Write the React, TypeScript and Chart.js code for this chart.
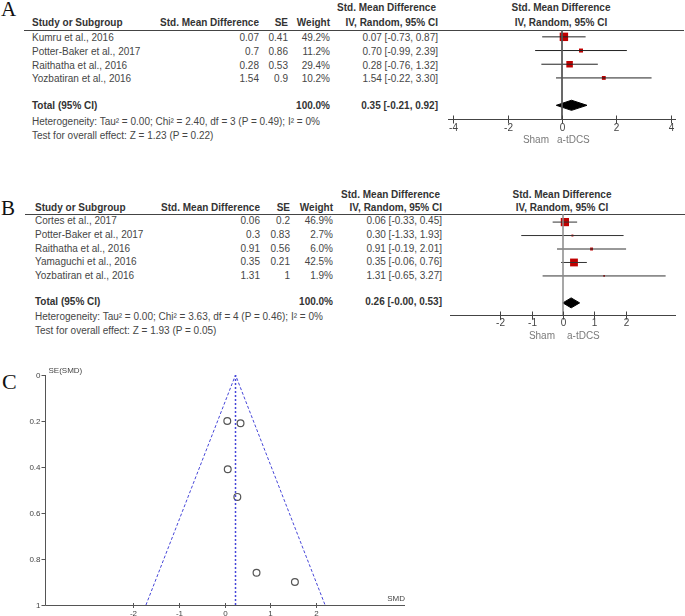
import React, { useEffect, useRef } from "react";
import { Chart, registerables } from "chart.js";
Chart.register(...registerables);

// ---------- Panel A data ----------
const studiesA = ["Kumru et al., 2016", "Potter-Baker et al., 2017", "Raithatha et al., 2016", "Yozbatiran et al., 2016"];
const smdA = [0.07, 0.7, 0.28, 1.54];
const seA = [0.41, 0.86, 0.53, 0.9];
const weightA = [49.2, 11.2, 29.4, 10.2];
const lowA = [-0.73, -0.99, -0.76, -0.22];
const highA = [0.87, 2.39, 1.32, 3.3];
const totalA = [0.35, -0.21, 0.92];
const ticksA = [-4, -2, 0, 2, 4];
const hetA = "Heterogeneity: Tau\u00b2 = 0.00; Chi\u00b2 = 2.40, df = 3 (P = 0.49); I\u00b2 = 0%";
const testA = "Test for overall effect: Z = 1.23 (P = 0.22)";

// ---------- Panel B data ----------
const studiesB = ["Cortes et al., 2017", "Potter-Baker et al., 2017", "Raithatha et al., 2016", "Yamaguchi et al., 2016", "Yozbatiran et al., 2016"];
const smdB = [0.06, 0.3, 0.91, 0.35, 1.31];
const seB = [0.2, 0.83, 0.56, 0.21, 1];
const weightB = [46.9, 2.7, 6.0, 42.5, 1.9];
const lowB = [-0.33, -1.33, -0.19, -0.06, -0.65];
const highB = [0.45, 1.93, 2.01, 0.76, 3.27];
const totalB = [0.26, -0.004, 0.53];
const ticksB = [-2, -1, 0, 1, 2];
const hetB = "Heterogeneity: Tau\u00b2 = 0.00; Chi\u00b2 = 3.63, df = 4 (P = 0.46); I\u00b2 = 0%";
const testB = "Test for overall effect: Z = 1.93 (P = 0.05)";

// ---------- Panel C data ----------
const funnelSmd = [0.06, 0.35, 0.07, 0.28, 0.7, 1.54];
const funnelSe = [0.2, 0.21, 0.41, 0.53, 0.86, 0.9];
const funnelPooled = 0.24;
const funnelXTicks = [-2, -1, 0, 1, 2];
const funnelYTicks = [0, 0.2, 0.4, 0.6, 0.8, 1];

const FONT = '"Liberation Sans", Arial, sans-serif';

function T(props: { x: number; c: number; align?: "left" | "right" | "center"; bold?: boolean; color?: string; children: any; size?: number }) {
  const { x, c, align = "left", bold = false, color, children, size = 10 } = props;
  const style: any = {
    position: "absolute",
    top: c - 7,
    lineHeight: "12px",
    fontSize: size,
    fontWeight: bold ? "bold" : "normal",
    color: color || (bold ? "#333" : "#464646"),
    whiteSpace: "nowrap",
  };
  if (align === "left") style.left = x;
  else if (align === "right") { style.left = x - 400; style.width = 400; style.textAlign = "right"; }
  else { style.left = x - 200; style.width = 400; style.textAlign = "center"; }
  return <div style={style}>{children}</div>;
}

type Layout = {
  studyX: number; smdX: number; seX: number; wtX: number; ciX: number; hdrX: number; plotX: number;
  hdr1: number; hdr2: number; lineY: number; lineX1: number; lineX2: number;
  row0: number; step: number; totalY: number; hetY: number; testY: number;
};

function ForestTable(p: { studies: string[]; smd: number[]; se: number[]; weight: number[]; low: number[]; high: number[]; total: number[]; het: string; test: string; L: Layout }) {
  const { studies, smd, se, weight, low, high, total, het, test, L } = p;
  const ci = (e: number, l: number, h: number) => `${e.toFixed(2)} [${l.toFixed(2)}, ${h.toFixed(2)}]`;
  return (
    <>
      <T x={L.hdrX} c={L.hdr1 + 1} align="right" bold>Std. Mean Difference</T>
      <T x={L.studyX} c={L.hdr2} bold>Study or Subgroup</T>
      <T x={L.smdX} c={L.hdr2} align="right" bold>Std. Mean Difference</T>
      <T x={L.seX} c={L.hdr2} align="right" bold>SE</T>
      <T x={L.wtX} c={L.hdr2} align="right" bold>Weight</T>
      <T x={L.ciX} c={L.hdr2} align="right" bold>IV, Random, 95% CI</T>
      <T x={L.plotX} c={L.hdr1 + 1} align="center" bold>Std. Mean Difference</T>
      <T x={L.plotX} c={L.hdr2} align="center" bold>IV, Random, 95% CI</T>
      <div style={{ position: "absolute", left: L.lineX1, top: L.lineY, width: L.lineX2 - L.lineX1, height: 1, background: "#444" }} />
      {studies.map((s, i) => (
        <React.Fragment key={s}>
          <T x={L.studyX} c={L.row0 + i * L.step}>{s}</T>
          <T x={L.smdX} c={L.row0 + i * L.step} align="right">{String(smd[i])}</T>
          <T x={L.seX} c={L.row0 + i * L.step} align="right">{String(se[i])}</T>
          <T x={L.wtX} c={L.row0 + i * L.step} align="right">{weight[i].toFixed(1) + "%"}</T>
          <T x={L.ciX} c={L.row0 + i * L.step} align="right">{ci(smd[i], low[i], high[i])}</T>
        </React.Fragment>
      ))}
      <T x={L.studyX} c={L.totalY} bold>Total (95% CI)</T>
      <T x={L.wtX} c={L.totalY} align="right" bold>{weight.reduce((a, b) => a + b, 0).toFixed(1) + "%"}</T>
      <T x={L.ciX} c={L.totalY} align="right" bold>{ci(total[0], total[1], total[2])}</T>
      <T x={L.studyX} c={L.hetY}>{het}</T>
      <T x={L.studyX} c={L.testY}>{test}</T>
    </>
  );
}

const forestAxisPlugin = {
  id: "forestAxis",
  afterDatasetsDraw(chart: any, _args: any, o: any) {
    const { ctx, chartArea: ca, scales } = chart;
    const xs = scales.x;
    const yb = Math.round(ca.bottom) + 0.5;
    ctx.save();
    ctx.strokeStyle = "#444";
    ctx.lineWidth = 1;
    ctx.beginPath();
    ctx.moveTo(ca.left, yb);
    ctx.lineTo(ca.right, yb);
    ctx.stroke();
    ctx.font = `10px ${FONT}`;
    ctx.fillStyle = "#444";
    ctx.textBaseline = "middle";
    ctx.textAlign = "center";
    o.ticks.forEach((v: number) => {
      const px = Math.round(xs.getPixelForValue(v)) + 0.5;
      ctx.beginPath();
      ctx.moveTo(px, yb - 4);
      ctx.lineTo(px, yb + 4);
      ctx.stroke();
      ctx.fillText(String(v), px, yb + o.labelDy);
    });
    const zx = xs.getPixelForValue(0);
    ctx.fillStyle = "#7a7a7a";
    ctx.textAlign = "right";
    ctx.fillText("Sham", zx + o.shamDx, yb + 21);
    ctx.textAlign = "left";
    ctx.fillText("a-tDCS", zx + o.tdcsDx, yb + 21);
    ctx.restore();
  },
};

function ForestPlot(p: {
  left: number; top: number; width: number; height: number; pad: any;
  xMin: number; xMax: number; yMin: number; yMax: number;
  est: number[]; low: number[]; high: number[]; weight: number[]; total: number[]; totalRow: number;
  ticks: number[]; zeroColor: string; zeroWidth: number; ciColor: string; shamDx: number; tdcsDx: number; labelDy: number; dH: number;
}) {
  const ref = useRef<HTMLCanvasElement>(null);
  useEffect(() => {
    if (!ref.current) return;
    const datasets: any[] = [];
    datasets.push({ type: "line", data: [{ x: 0, y: p.yMin }, { x: 0, y: p.yMax }], borderColor: p.zeroColor, borderWidth: p.zeroWidth, pointRadius: 0, clip: false });
    p.est.forEach((_e, i) => {
      datasets.push({ type: "line", data: [{ x: p.low[i], y: i }, { x: p.high[i], y: i }], borderColor: p.ciColor, borderWidth: 1, pointRadius: 0, clip: false });
    });
    datasets.push({
      type: "scatter",
      data: p.est.map((e, i) => ({ x: e, y: i })),
      pointStyle: "rect",
      pointRadius: p.weight.map((w) => (1.2 * Math.sqrt(w)) / Math.SQRT2),
      backgroundColor: "#c00000",
      borderWidth: 0,
      clip: false,
    });
    const r = p.totalRow;
    const [te, tl, th] = p.total;
    datasets.push({
      type: "line",
      data: [{ x: tl, y: r }, { x: te, y: r - p.dH }, { x: th, y: r }, { x: te, y: r + p.dH }, { x: tl, y: r }],
      borderColor: "#000",
      backgroundColor: "#000",
      borderWidth: 1,
      fill: "shape",
      pointRadius: 0,
      clip: false,
    });
    const chart = new Chart(ref.current, {
      type: "scatter",
      data: { datasets },
      options: {
        responsive: false,
        animation: false,
        events: [],
        layout: { padding: p.pad },
        plugins: {
          legend: { display: false },
          tooltip: { enabled: false },
          forestAxis: { ticks: p.ticks, shamDx: p.shamDx, tdcsDx: p.tdcsDx, labelDy: p.labelDy },
        } as any,
        scales: {
          x: { type: "linear", min: p.xMin, max: p.xMax, display: false },
          y: { type: "linear", min: p.yMin, max: p.yMax, reverse: true, display: false },
        },
      },
      plugins: [forestAxisPlugin],
    } as any);
    return () => chart.destroy();
  }, []);
  return <canvas ref={ref} width={p.width} height={p.height} style={{ position: "absolute", left: p.left, top: p.top }} />;
}

const funnelAxisPlugin = {
  id: "funnelAxis",
  afterDatasetsDraw(chart: any, _args: any, o: any) {
    const { ctx, chartArea: ca, scales } = chart;
    const xl = Math.round(ca.left) + 0.5;
    const yb = Math.round(ca.bottom) + 0.5;
    ctx.save();
    ctx.strokeStyle = "#555";
    ctx.lineWidth = 1;
    ctx.beginPath();
    ctx.moveTo(xl, ca.top);
    ctx.lineTo(xl, yb);
    ctx.lineTo(ca.right, yb);
    ctx.stroke();
    ctx.font = `8px ${FONT}`;
    ctx.fillStyle = "#444";
    ctx.textBaseline = "middle";
    ctx.textAlign = "right";
    o.yTicks.forEach((v: number) => {
      const py = Math.round(scales.y.getPixelForValue(v)) + 0.5;
      ctx.beginPath();
      ctx.moveTo(xl - 4, py);
      ctx.lineTo(xl, py);
      ctx.stroke();
      ctx.fillText(String(v), xl - 5, py);
    });
    ctx.textAlign = "center";
    o.xTicks.forEach((v: number) => {
      const px = Math.round(scales.x.getPixelForValue(v)) + 0.5;
      ctx.beginPath();
      ctx.moveTo(px, yb - 2.5);
      ctx.lineTo(px, yb + 2.5);
      ctx.stroke();
      ctx.fillText(String(v), px, yb + 8);
    });
    ctx.textAlign = "left";
    ctx.fillText("SE(SMD)", xl + 3, ca.top - 4.5);
    ctx.textAlign = "right";
    ctx.fillText("SMD", ca.right, yb - 7);
    ctx.restore();
  },
};

function FunnelPlot() {
  const ref = useRef<HTMLCanvasElement>(null);
  useEffect(() => {
    if (!ref.current) return;
    const blue = "#4646d8";
    const chart = new Chart(ref.current, {
      type: "scatter",
      data: {
        datasets: [
          {
            type: "line",
            data: [{ x: funnelPooled - 1.96, y: 1 }, { x: funnelPooled, y: 0 }, { x: funnelPooled + 1.96, y: 1 }],
            borderColor: blue, borderWidth: 1, borderDash: [3, 2], pointRadius: 0, clip: false,
          },
          {
            type: "line",
            data: [{ x: funnelPooled, y: 0 }, { x: funnelPooled, y: 1 }],
            borderColor: blue, borderWidth: 1.5, borderDash: [2, 2], pointRadius: 0, clip: false,
          },
          {
            type: "scatter",
            data: funnelSmd.map((v, i) => ({ x: v, y: funnelSe[i] })),
            pointStyle: "circle", pointRadius: 3.4, borderColor: "#555", backgroundColor: "rgba(0,0,0,0)", borderWidth: 1.2, clip: false,
          },
        ],
      },
      options: {
        responsive: false,
        animation: false,
        events: [],
        layout: { padding: { left: 45, right: 280, top: 35, bottom: 11 } },
        plugins: {
          legend: { display: false },
          tooltip: { enabled: false },
          funnelAxis: { xTicks: funnelXTicks, yTicks: funnelYTicks },
        } as any,
        scales: {
          x: { type: "linear", min: -3.93, max: 3.95, display: false },
          y: { type: "linear", min: 0, max: 1, reverse: true, display: false },
        },
      },
      plugins: [funnelAxisPlugin],
    } as any);
    return () => chart.destroy();
  }, []);
  return <canvas ref={ref} width={685} height={276} style={{ position: "absolute", left: 0, top: 340 }} />;
}

const layoutA: Layout = {
  studyX: 32, smdX: 259, seX: 288, wtX: 330, ciX: 438, hdrX: 436, plotX: 561,
  hdr1: 8.3, hdr2: 23.7, lineY: 30, lineX1: 24, lineX2: 684,
  row0: 39, step: 13.8, totalY: 107, hetY: 123, testY: 136.5,
};
const layoutB: Layout = {
  studyX: 35, smdX: 260, seX: 290, wtX: 333, ciX: 442, hdrX: 440, plotX: 562,
  hdr1: 195, hdr2: 209, lineY: 214, lineX1: 25, lineX2: 685,
  row0: 222, step: 13.75, totalY: 303, hetY: 318.3, testY: 332,
};

const letter = (ch: string, left: number, top: number, size: number) => (
  <div style={{ position: "absolute", left, top, fontFamily: '"Liberation Serif", "Times New Roman", serif', fontSize: size, lineHeight: `${size}px`, color: "#111" }}>{ch}</div>
);

export default function App() {
  return (
    <div style={{ position: "absolute", left: 0, top: 0, width: 685, height: 616, background: "#fff", fontFamily: FONT, overflow: "hidden" }}>
      {letter("A", 1, -1, 21)}
      {letter("B", 1, 198, 21)}
      {letter("C", 2, 371, 22)}
      <ForestTable studies={studiesA} smd={smdA} se={seA} weight={weightA} low={lowA} high={highA} total={totalA} het={hetA} test={testA} L={layoutA} />
      <ForestTable studies={studiesB} smd={smdB} se={seB} weight={weightB} low={lowB} high={highB} total={totalB} het={hetB} test={testB} L={layoutB} />
      <ForestPlot
        left={440} top={0} width={245} height={150} pad={{ left: 8, right: 9, top: 30, bottom: 31 }}
        xMin={-4.2} xMax={4.2} yMin={-0.5} yMax={6}
        est={smdA} low={lowA} high={highA} weight={weightA} total={totalA} totalRow={5}
        ticks={ticksA} zeroColor="#555" zeroWidth={1} ciColor="#222" shamDx={-13} tdcsDx={-5} labelDy={9} dH={0.37}
      />
      <ForestPlot
        left={440} top={160} width={245} height={190} pad={{ left: 10, right: 9, top: 54, bottom: 35 }}
        xMin={-3.6} xMax={3.6} yMin={-0.6} yMax={6.9}
        est={smdB} low={lowB} high={highB} weight={weightB} total={totalB} totalRow={6}
        ticks={ticksB} zeroColor="#8a8a8a" zeroWidth={1.5} ciColor="#333" shamDx={-8} tdcsDx={4} labelDy={8} dH={0.37}
      />
      <FunnelPlot />
    </div>
  );
}
